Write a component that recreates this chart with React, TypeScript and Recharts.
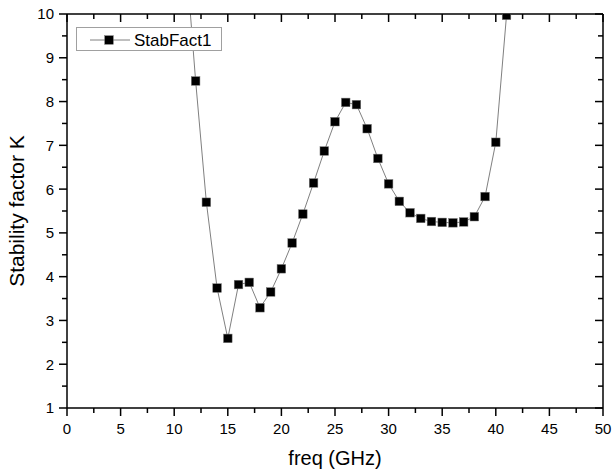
import React from 'react';
import { LineChart, Line, XAxis, YAxis, Legend } from 'recharts';

const freq = [11, 12, 13, 14, 15, 16, 17, 18, 19, 20, 21, 22, 23, 24, 25, 26, 27, 28, 29, 30, 31, 32, 33, 34, 35, 36, 37, 38, 39, 40, 41];
const stabFact1 = [11.6, 8.47, 5.7, 3.74, 2.59, 3.82, 3.87, 3.29, 3.65, 4.18, 4.77, 5.43, 6.14, 6.87, 7.54, 7.98, 7.93, 7.38, 6.7, 6.12, 5.72, 5.46, 5.33, 5.26, 5.24, 5.23, 5.25, 5.37, 5.83, 7.07, 9.97];
const xTicks = [0, 2.5, 5, 7.5, 10, 12.5, 15, 17.5, 20, 22.5, 25, 27.5, 30, 32.5, 35, 37.5, 40, 42.5, 45, 47.5, 50];
const yTicks = [1, 1.5, 2, 2.5, 3, 3.5, 4, 4.5, 5, 5.5, 6, 6.5, 7, 7.5, 8, 8.5, 9, 9.5, 10];

const data = freq.map((f, i) => ({ freq: f, k: stabFact1[i] }));

const FONT = '"Liberation Sans", Arial, sans-serif';
const MAJ = 8;
const MIN = 5;

const BottomTick = (p: any) => {
  const v = p.payload.value;
  const major = v % 5 === 0;
  return (
    <g>
      <line x1={p.x} x2={p.x} y1={p.y} y2={p.y + (major ? MAJ : MIN)} stroke="#000" strokeWidth={1.5} />
      {major && (
        <text x={p.x} y={p.y + 26} textAnchor="middle" fontSize={15} fontFamily={FONT} fill="#000">
          {v}
        </text>
      )}
    </g>
  );
};

const TopTick = (p: any) => {
  const v = p.payload.value;
  const major = v % 5 === 0;
  return <line x1={p.x} x2={p.x} y1={p.y} y2={p.y + (major ? MAJ : MIN)} stroke="#000" strokeWidth={1.5} />;
};

const LeftTick = (p: any) => {
  const v = p.payload.value;
  const major = Number.isInteger(v);
  return (
    <g>
      <line x1={p.x - (major ? MAJ : MIN)} x2={p.x} y1={p.y} y2={p.y} stroke="#000" strokeWidth={1.5} />
      {major && (
        <text x={p.x - 13} y={p.y} dy="0.36em" textAnchor="end" fontSize={15} fontFamily={FONT} fill="#000">
          {v}
        </text>
      )}
    </g>
  );
};

const RightTick = (p: any) => {
  const v = p.payload.value;
  const major = Number.isInteger(v);
  return <line x1={p.x - (major ? MAJ : MIN)} x2={p.x} y1={p.y} y2={p.y} stroke="#000" strokeWidth={1.5} />;
};

const SquareDot = (p: any) => {
  if (p.cx == null || p.cy == null) return <g key={p.index} />;
  return (
    <rect key={p.index} x={p.cx - 4.3} y={p.cy - 4.3} width={8.6} height={8.6} fill="#000" stroke="#777" strokeWidth={0.5} />
  );
};

const LegendBox = () => (
  <svg width={146} height={24} style={{ display: 'block' }}>
    <rect x={0.5} y={0.5} width={145} height={23} fill="#fff" stroke="#a0a0a0" strokeWidth={1} />
    <line x1={14} x2={54} y1={13} y2={13} stroke="#808080" strokeWidth={1} />
    <rect x={33 - 4.3} y={13 - 4.3} width={8.6} height={8.6} fill="#000" stroke="#777" strokeWidth={0.5} />
    <text x={58} y={19} fontSize={17} fontFamily={FONT} fill="#000">
      StabFact1
    </text>
  </svg>
);

export default function App() {
  return (
    <div style={{ position: 'absolute', left: 0, top: 0, width: 612, height: 474, background: '#fff' }}>
      <LineChart width={612} height={474} data={data} margin={{ top: 13, right: 0, bottom: 0, left: 0 }}>
        <XAxis
          xAxisId="bottom"
          dataKey="freq"
          type="number"
          domain={[0, 50]}
          ticks={xTicks}
          interval={0}
          allowDataOverflow
          height={66}
          tickSize={0}
          tickMargin={0}
          tickLine={false}
          axisLine={{ stroke: '#000', strokeWidth: 1.5 }}
          tick={<BottomTick />}
          label={{ value: 'freq (GHz)', position: 'insideBottom', offset: 9, fontSize: 20, fontFamily: FONT, fill: '#000' }}
        />
        <XAxis
          xAxisId="top"
          orientation="top"
          dataKey="freq"
          type="number"
          domain={[0, 50]}
          ticks={xTicks}
          interval={0}
          allowDataOverflow
          height={1}
          tickSize={0}
          tickMargin={0}
          tickLine={false}
          axisLine={{ stroke: '#000', strokeWidth: 1.5 }}
          tick={<TopTick />}
        />
        <YAxis
          yAxisId="left"
          type="number"
          domain={[1, 10]}
          ticks={yTicks}
          interval={0}
          allowDataOverflow
          width={67}
          tickSize={0}
          tickMargin={0}
          tickLine={false}
          axisLine={{ stroke: '#000', strokeWidth: 1.5 }}
          tick={<LeftTick />}
          label={{ value: 'Stability factor K', angle: -90, position: 'insideLeft', offset: 0, dx: 17, fontSize: 21, fontFamily: FONT, fill: '#000', style: { textAnchor: 'middle' } }}
        />
        <YAxis
          yAxisId="right"
          orientation="right"
          type="number"
          domain={[1, 10]}
          ticks={yTicks}
          interval={0}
          allowDataOverflow
          width={9}
          tickSize={0}
          tickMargin={0}
          tickLine={false}
          axisLine={{ stroke: '#000', strokeWidth: 1.5 }}
          tick={<RightTick />}
        />
        <Legend
          layout="vertical"
          align="center"
          verticalAlign="middle"
          wrapperStyle={{ left: 76, top: 27, width: 146, height: 24 }}
          content={() => <LegendBox />}
        />
        <Line
          xAxisId="bottom"
          yAxisId="left"
          type="linear"
          dataKey="k"
          name="StabFact1"
          stroke="#808080"
          strokeWidth={1}
          dot={SquareDot}
          activeDot={false}
          isAnimationActive={false}
        />
      </LineChart>
    </div>
  );
}
